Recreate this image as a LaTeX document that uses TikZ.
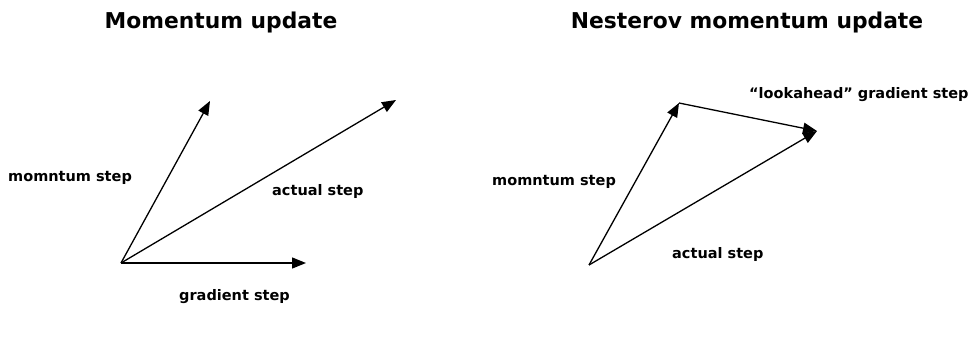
\documentclass[tikz,border=0pt]{standalone}
\usepackage{fontspec}
\setmainfont{DejaVu Sans}
\usetikzlibrary{arrows.meta}

\begin{document}
\begin{tikzpicture}[
  x=1pt, y=-1pt,
  title/.style={anchor=base, font=\bfseries\fontsize{21.8}{26}\selectfont, inner sep=0pt},
  lbl/.style={anchor=base west, font=\bfseries\fontsize{14.5}{17}\selectfont, inner sep=0pt},
  vec/.style={-{Triangle[length=14pt, width=11pt]}, line width=1.3pt}
]
\useasboundingbox (0,0) rectangle (968,340);

% left: momentum update
\node[title] (t1) at (221,28) {Momentum update};
\coordinate (o1) at (121,263);
\coordinate (m1) at (210,101);
\coordinate (a1) at (396,100);
\coordinate (g1) at (306,263);
\draw[vec] (o1) -- (m1);
\draw[vec] (o1) -- (a1);
\draw[vec] (o1) -- (g1);
\node[lbl] (lm1) at (8,181) {momntum step};
\node[lbl] (la1) at (272,195) {actual step};
\node[lbl] (lg1) at (179,300) {gradient step};

% right: nesterov momentum update
\node[title] (t2) at (747,28) {Nesterov momentum update};
\coordinate (o2) at (589,265);
\coordinate (m2) at (679,103);
\coordinate (e2) at (817,131);
\draw[vec] (o2) -- (m2);
\draw[vec] (m2) -- (e2);
\draw[vec] (o2) -- (e2);
\node[lbl] (lm2) at (492,185) {momntum step};
\node[lbl] (la2) at (672,258) {actual step};
\node[lbl] (ll2) at (749,98) {“lookahead” gradient step};
\end{tikzpicture}
\end{document}
